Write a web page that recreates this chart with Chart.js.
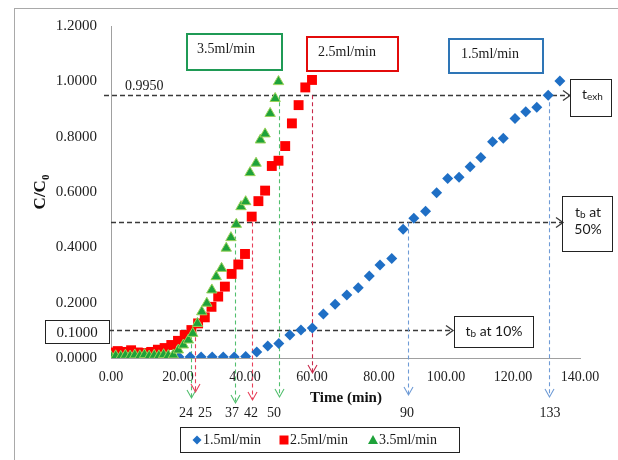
<!DOCTYPE html>
<html>
<head>
<meta charset="utf-8">
<script src="https://cdn.jsdelivr.net/npm/chart.js@4.4.0/dist/chart.umd.min.js"></script>
<style>
  html, body { margin: 0; padding: 0; background: #ffffff; }
  canvas { display: block; }
</style>
</head>
<body>
<canvas id="chart" width="618" height="460"></canvas>
<script>
// Breakthrough curves: C/C0 against time at three flow rates

const seriesNames = ['1.5ml/min', '2.5ml/min', '3.5ml/min'];

// 1.5 ml/min
const time15 = [20.3, 23.6, 26.9, 30.2, 33.5, 36.8, 40.2, 43.5, 46.8, 50.1, 53.4, 56.7, 60.1,
                63.4, 66.9, 70.4, 73.8, 77.1, 80.3, 83.8, 87.2, 90.4, 93.9, 97.2, 100.5,
                103.9, 107.2, 110.4, 113.9, 117.1, 120.6, 123.8, 127.1, 130.5, 134.0];
const conc15 = [0.004, 0.004, 0.004, 0.004, 0.004, 0.004, 0.005, 0.022, 0.043, 0.052, 0.083, 0.101, 0.108,
                0.159, 0.194, 0.228, 0.254, 0.296, 0.336, 0.360, 0.465, 0.505, 0.530, 0.597, 0.649,
                0.653, 0.691, 0.725, 0.782, 0.794, 0.866, 0.890, 0.906, 0.950, 1.001];

// 2.5 ml/min
const time25 = [0, 2, 4, 6, 8, 10, 12, 14, 16, 18, 20, 22, 24, 26, 28, 30,
                32, 34, 36, 38, 40, 42, 44, 46, 48, 50, 52, 54, 56, 58, 60];
const conc25 = [0.020, 0.025, 0.022, 0.028, 0.020, 0.018, 0.022, 0.030, 0.036, 0.047, 0.062, 0.083, 0.101, 0.125, 0.147, 0.185,
                0.222, 0.258, 0.304, 0.338, 0.376, 0.511, 0.567, 0.605, 0.694, 0.713, 0.766, 0.848, 0.914, 0.978, 1.005];

// 3.5 ml/min
const time35 = [0, 1.4, 2.9, 4.3, 5.7, 7.1, 8.6, 10.0, 11.4, 12.9, 14.3, 15.7, 17.1, 18.6, 20.1, 21.6,
                23.1, 24.4, 25.8, 27.1, 28.6, 30.1, 31.4, 33.0, 34.4, 35.8, 37.4, 38.8, 40.2, 41.5,
                43.3, 44.6, 46.0, 47.5, 49.0, 50.0];
const conc35 = [0.005, 0.008, 0.006, 0.010, 0.007, 0.011, 0.008, 0.012, 0.007, 0.010, 0.008, 0.012, 0.009, 0.011, 0.029, 0.047,
                0.065, 0.089, 0.125, 0.167, 0.198, 0.246, 0.294, 0.324, 0.397, 0.435, 0.483, 0.547, 0.565, 0.670,
                0.704, 0.788, 0.810, 0.884, 0.938, 0.999];

// axis ticks
const xTicks = [0, 20, 40, 60, 80, 100, 120, 140];
const yTicks = [0, 0.2, 0.4, 0.6, 0.8, 1.0, 1.2];

// breakthrough (10 %, 50 %) and exhaustion levels
const levelValues = [0.1, 0.49, 0.95];
const levelTexts = ['0.1000', '', '0.9950'];

// dashed drop lines: time, level they start from, series index, printed time
const dropTimes  = [24, 25, 37, 42, 50, 60, 88.7, 130.6];
const dropLevels = [0.1, 0.1, 0.49, 0.49, 0.95, 0.95, 0.49, 0.95];
const dropSeries = [2, 1, 2, 1, 2, 1, 0, 0];
const dropTexts  = ['24', '25', '37', '42', '50', '', '90', '133'];

const colors = ['#1f6fc5', '#ff0000', '#1ea23a'];
const dropColors = ['#6f9bd6', '#e8405a', '#52bf6e'];
const SERIF = '"Liberation Serif", "DejaVu Serif", serif';
const SANS = 'Lato, "Liberation Sans", sans-serif';

function pts(xs, ys) { return xs.map((x, i) => ({ x: x, y: ys[i] })); }

function arrowDown(ctx, x, y) {
  ctx.beginPath();
  ctx.moveTo(x - 4.5, y - 8); ctx.lineTo(x, y); ctx.lineTo(x + 4.5, y - 8);
  ctx.stroke();
}
function arrowRight(ctx, x, y) {
  ctx.beginPath();
  ctx.moveTo(x - 7, y - 5); ctx.lineTo(x, y); ctx.lineTo(x - 7, y + 5);
  ctx.stroke();
}
// "t" with a subscript, returns nothing; x is the left edge
function tSub(ctx, x, y, sub, rest, size) {
  ctx.textAlign = 'left'; ctx.textBaseline = 'middle';
  ctx.font = size + 'px ' + SANS;
  ctx.fillText('t', x, y);
  let w = ctx.measureText('t').width;
  ctx.font = Math.round(size * 0.72) + 'px ' + SANS;
  ctx.fillText(sub, x + w, y + 3);
  w += ctx.measureText(sub).width;
  if (rest) {
    ctx.font = size + 'px ' + SANS;
    ctx.fillText(rest, x + w, y);
  }
}
function tSubWidth(ctx, sub, rest, size) {
  ctx.font = size + 'px ' + SANS;
  let w = ctx.measureText('t').width + (rest ? ctx.measureText(rest).width : 0);
  ctx.font = Math.round(size * 0.72) + 'px ' + SANS;
  return w + ctx.measureText(sub).width;
}

const annotations = {
  id: 'annotations',
  beforeDraw(chart) {
    const ctx = chart.ctx;
    ctx.save();
    ctx.fillStyle = '#ffffff';
    ctx.fillRect(0, 0, chart.width, chart.height);
    ctx.strokeStyle = '#a9a9a9';
    ctx.lineWidth = 1;
    ctx.strokeRect(14.5, 8.5, 800, 800);
    ctx.restore();
  },
  beforeDatasetsDraw(chart) {
    const ctx = chart.ctx, xs = chart.scales.x, ys = chart.scales.y;
    ctx.save();
    // horizontal level lines
    const hStart = [109, 111, 104];
    const hEnd = [452, 562, 569];
    ctx.strokeStyle = '#3a3a3a';
    ctx.lineWidth = 1.3;
    levelValues.forEach((v, i) => {
      const y = Math.round(ys.getPixelForValue(v)) + 0.5;
      ctx.setLineDash([5, 3]);
      ctx.beginPath(); ctx.moveTo(hStart[i], y); ctx.lineTo(hEnd[i], y); ctx.stroke();
      ctx.setLineDash([]);
      arrowRight(ctx, hEnd[i] + 1, y);
    });
    // vertical drop lines
    const tipY = [398, 392, 403, 400, 397, 373, 395, 397];
    ctx.lineWidth = 1.1;
    dropTimes.forEach((t, i) => {
      const x = Math.round(xs.getPixelForValue(t)) + 0.5;
      const y0 = ys.getPixelForValue(dropLevels[i]);
      ctx.strokeStyle = i === 5 ? '#c8284a' : dropColors[dropSeries[i]];
      ctx.setLineDash([4, 3]);
      ctx.beginPath(); ctx.moveTo(x, y0); ctx.lineTo(x, tipY[i]); ctx.stroke();
      ctx.setLineDash([]);
      arrowDown(ctx, x, tipY[i]);
    });
    ctx.restore();
  },
  afterDraw(chart) {
    const ctx = chart.ctx, xs = chart.scales.x, ys = chart.scales.y;
    ctx.save();
    ctx.fillStyle = '#1a1a1a';

    // drop-line time labels
    const labelX = [186, 205, 232, 251, 274, 0, 407, 550];
    ctx.font = '14px ' + SERIF;
    ctx.textAlign = 'center'; ctx.textBaseline = 'middle';
    dropTexts.forEach((s, i) => { if (s) ctx.fillText(s, labelX[i], 413); });

    // level value texts
    ctx.font = '14px ' + SERIF;
    ctx.textAlign = 'left';
    ctx.fillText(levelTexts[2], 125, 86);
    ctx.strokeStyle = '#222'; ctx.lineWidth = 1;
    ctx.strokeRect(45.5, 320.5, 64, 23);
    ctx.font = '15px ' + SERIF;
    ctx.textAlign = 'center';
    ctx.fillText(levelTexts[0], 77, 333);

    // flow-rate boxes
    const boxes = [
      { s: 2, x: 187, y: 34, w: 95, h: 36, tx: 197, ty: 49 },
      { s: 1, x: 307, y: 37, w: 91, h: 34, tx: 318, ty: 52 },
      { s: 0, x: 449, y: 39, w: 94, h: 34, tx: 461, ty: 54 }
    ];
    boxes.forEach(b => {
      ctx.strokeStyle = colors[b.s] === '#ff0000' ? '#e30b0b' : (b.s === 2 ? '#1f9a55' : '#2e75b6');
      ctx.lineWidth = 2;
      ctx.strokeRect(b.x, b.y, b.w, b.h);
      ctx.fillStyle = '#1a1a1a';
      ctx.font = '14px ' + SERIF;
      ctx.textAlign = 'left'; ctx.textBaseline = 'middle';
      ctx.fillText(seriesNames[b.s], b.tx, b.ty);
    });

    // time boxes on the right
    ctx.strokeStyle = '#222'; ctx.lineWidth = 1;
    ctx.strokeRect(570.5, 79.5, 41, 37);
    ctx.fillStyle = '#1a1a1a';
    tSub(ctx, 582, 94, 'exh', '', 14);

    ctx.strokeRect(562.5, 196.5, 50, 55);
    tSub(ctx, 588 - tSubWidth(ctx, 'b', ' at', 14) / 2, 212, 'b', ' at', 14);
    ctx.font = '14px ' + SANS; ctx.textAlign = 'center';
    ctx.fillText('50%', 588, 229);

    ctx.strokeRect(454.5, 316.5, 79, 31);
    tSub(ctx, 494 - tSubWidth(ctx, 'b', ' at 10%', 14) / 2, 331, 'b', ' at 10%', 14);

    // axis titles
    ctx.fillStyle = '#111';
    ctx.font = 'bold 15px ' + SERIF;
    ctx.textAlign = 'center'; ctx.textBaseline = 'middle';
    ctx.fillText('Time (min)', 346, 398);

    ctx.translate(41, 192);
    ctx.rotate(-Math.PI / 2);
    ctx.font = 'bold 17px ' + SERIF;
    const wMain = ctx.measureText('C/C').width;
    ctx.font = 'bold 11px ' + SERIF;
    const wSub = ctx.measureText('0').width;
    ctx.font = 'bold 17px ' + SERIF;
    ctx.textAlign = 'left';
    ctx.fillText('C/C', -(wMain + wSub) / 2, 0);
    ctx.font = 'bold 11px ' + SERIF;
    ctx.fillText('0', -(wMain + wSub) / 2 + wMain, 5);
    ctx.setTransform(1, 0, 0, 1, 0, 0);

    // legend
    ctx.strokeStyle = '#222'; ctx.lineWidth = 1;
    ctx.strokeRect(180.5, 427.5, 279, 25);
    const legendX = [197, 284, 373];
    ctx.font = '14px ' + SERIF;
    ctx.textAlign = 'left'; ctx.textBaseline = 'middle';
    [0, 1, 2].forEach(i => {
      const cx = legendX[i], cy = 440;
      ctx.fillStyle = colors[i];
      ctx.beginPath();
      if (i === 0) { ctx.moveTo(cx, cy - 4.5); ctx.lineTo(cx + 4.5, cy); ctx.lineTo(cx, cy + 4.5); ctx.lineTo(cx - 4.5, cy); }
      else if (i === 1) { ctx.rect(cx - 4.5, cy - 4.5, 9, 9); }
      else { ctx.moveTo(cx, cy - 5); ctx.lineTo(cx + 5, cy + 4); ctx.lineTo(cx - 5, cy + 4); }
      ctx.closePath(); ctx.fill();
      ctx.fillStyle = '#1a1a1a';
      ctx.fillText(seriesNames[i], cx + 6, cy);
    });
    ctx.restore();
  }
};

new Chart(document.getElementById('chart'), {
  type: 'scatter',
  data: {
    datasets: [
      { label: seriesNames[2], data: pts(time35, conc35), pointStyle: 'triangle', pointRadius: 6,
        backgroundColor: colors[2], borderColor: '#9ad25a', borderWidth: 1, showLine: false },
      { label: seriesNames[1], data: pts(time25, conc25), pointStyle: 'rect', pointRadius: 7,
        backgroundColor: colors[1], borderColor: colors[1], borderWidth: 0, showLine: false },
      { label: seriesNames[0], data: pts(time15, conc15), pointStyle: 'rectRot', pointRadius: 5.5,
        backgroundColor: colors[0], borderColor: colors[0], borderWidth: 0, showLine: false }
    ]
  },
  options: {
    responsive: false,
    animation: false,
    devicePixelRatio: 1,
    layout: { padding: { left: 0, right: 38, top: 26, bottom: 72 } },
    plugins: { legend: { display: false }, tooltip: { enabled: false } },
    scales: {
      x: {
        type: 'linear', min: 0, max: 140,
        afterFit(scale) { scale.height = 30; },
        afterBuildTicks(scale) { scale.ticks = xTicks.map(v => ({ value: v })); },
        grid: { display: false, drawTicks: false },
        border: { display: true, color: '#a0a0a0', width: 1 },
        ticks: { padding: 11, color: '#222', font: { family: SERIF, size: 14 },
                 callback: v => v.toFixed(2) }
      },
      y: {
        type: 'linear', min: 0, max: 1.2,
        afterFit(scale) { scale.width = 111; },
        afterBuildTicks(scale) { scale.ticks = yTicks.map(v => ({ value: v })); },
        grid: { display: false, drawTicks: false },
        border: { display: true, color: '#a0a0a0', width: 1 },
        ticks: { padding: 14, color: '#222', font: { family: SERIF, size: 15 },
                 callback: v => v.toFixed(4) }
      }
    }
  },
  plugins: [annotations]
});
</script>
</body>
</html>
